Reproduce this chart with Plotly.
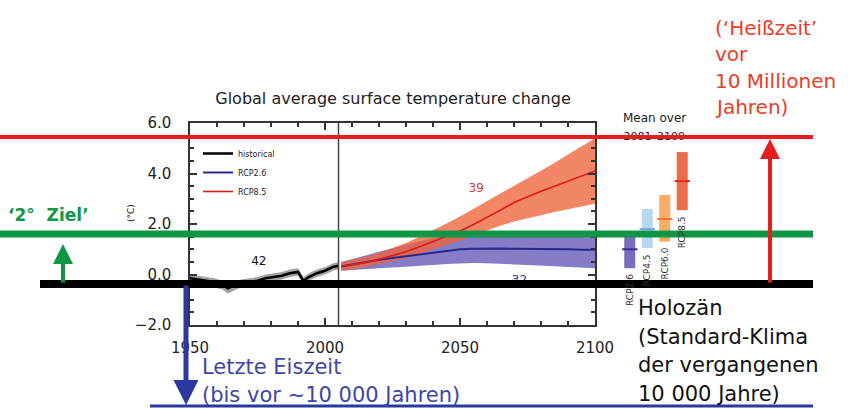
import plotly.graph_objects as go

W, H = 848, 409
FONT = "DejaVu Sans"

# ---------------- data ----------------
hist_years = [1950, 1953, 1956, 1959, 1962, 1964, 1966, 1969, 1972, 1975, 1978,
              1981, 1984, 1987, 1990, 1992, 1994, 1997, 2000, 2003, 2005]
hist_mean = [-0.15, -0.2, -0.25, -0.3, -0.4, -0.55, -0.45, -0.35, -0.3, -0.25, -0.15,
             -0.1, -0.05, 0.05, 0.1, -0.25, -0.1, 0.05, 0.15, 0.3, 0.35]
hist_low = [-0.35, -0.4, -0.45, -0.5, -0.6, -0.75, -0.65, -0.5, -0.45, -0.4, -0.3,
            -0.25, -0.2, -0.1, -0.05, -0.4, -0.25, -0.1, 0.0, 0.15, 0.2]
hist_high = [0.0, -0.05, -0.1, -0.15, -0.25, -0.35, -0.3, -0.2, -0.15, -0.1, 0.0,
             0.05, 0.1, 0.2, 0.25, -0.1, 0.05, 0.2, 0.3, 0.45, 0.5]

proj_years = [2006, 2010, 2015, 2020, 2025, 2030, 2035, 2040, 2045, 2050,
              2055, 2060, 2065, 2070, 2075, 2080, 2085, 2090, 2095, 2100]
rcp26_mean = [0.32, 0.4, 0.5, 0.58, 0.65, 0.72, 0.8, 0.88, 0.95, 1.0,
              1.02, 1.03, 1.03, 1.02, 1.02, 1.0, 1.0, 1.0, 0.98, 0.98]
rcp26_low = [0.15, 0.18, 0.22, 0.25, 0.28, 0.3, 0.34, 0.38, 0.42, 0.45,
             0.46, 0.45, 0.43, 0.4, 0.38, 0.35, 0.32, 0.3, 0.28, 0.25]
rcp26_high = [0.5, 0.6, 0.75, 0.9, 1.05, 1.2, 1.32, 1.45, 1.55, 1.6,
              1.62, 1.62, 1.62, 1.62, 1.62, 1.62, 1.62, 1.62, 1.62, 1.62]
rcp85_mean = [0.32, 0.38, 0.48, 0.6, 0.75, 0.9, 1.1, 1.3, 1.5, 1.72,
              1.98, 2.25, 2.55, 2.85, 3.08, 3.3, 3.5, 3.7, 3.9, 4.1]
rcp85_low = [0.15, 0.2, 0.3, 0.4, 0.52, 0.65, 0.82, 1.0, 1.18, 1.35,
             1.55, 1.75, 1.93, 2.1, 2.22, 2.35, 2.48, 2.6, 2.7, 2.8]
rcp85_high = [0.5, 0.58, 0.7, 0.85, 1.05, 1.25, 1.5, 1.75, 2.02, 2.3,
              2.6, 2.9, 3.2, 3.5, 3.8, 4.1, 4.42, 4.75, 5.08, 5.4]

n_hist_models, n_rcp26_models, n_rcp85_models = 42, 32, 39

bar_labels = ["RCP2.6", "RCP4.5", "RCP6.0", "RCP8.5"]
bar_low = [0.25, 1.05, 1.3, 2.55]
bar_high = [1.6, 2.6, 3.15, 4.85]
bar_mean = [1.0, 1.8, 2.2, 3.7]
bar_colors = ["rgb(120,110,190)", "rgb(185,215,242)", "rgb(250,172,105)", "rgb(236,108,72)"]
bar_mean_colors = ["rgb(60,50,150)", "rgb(120,170,225)", "rgb(240,120,50)", "rgb(225,40,30)"]

y_ticks = [-2, 0, 2, 4, 6]
x_ticks = [1950, 2000, 2050, 2100]


def px(x):
    return x / W


def py(y):
    return 1 - y / H


fig = go.Figure()

# bands
fig.add_trace(go.Scatter(x=hist_years + hist_years[::-1], y=hist_high + hist_low[::-1],
                         fill="toself", fillcolor="rgba(140,140,140,0.8)",
                         line=dict(width=0), showlegend=False, hoverinfo="skip"))
fig.add_trace(go.Scatter(x=proj_years + proj_years[::-1], y=rcp26_high + rcp26_low[::-1],
                         fill="toself", fillcolor="rgba(100,88,185,0.78)",
                         line=dict(width=0), showlegend=False, hoverinfo="skip"))
fig.add_trace(go.Scatter(x=proj_years + proj_years[::-1], y=rcp85_high + rcp85_low[::-1],
                         fill="toself", fillcolor="rgba(240,100,60,0.78)",
                         line=dict(width=0), showlegend=False, hoverinfo="skip"))

# lines
fig.add_trace(go.Scatter(x=hist_years, y=hist_mean, mode="lines", name="historical",
                         line=dict(color="black", width=2.5)))
fig.add_trace(go.Scatter(x=proj_years, y=rcp26_mean, mode="lines", name="RCP2.6",
                         line=dict(color="rgb(40,40,140)", width=2)))
fig.add_trace(go.Scatter(x=proj_years, y=rcp85_mean, mode="lines", name="RCP8.5",
                         line=dict(color="rgb(225,25,25)", width=1.6)))

# model counts
fig.add_trace(go.Scatter(x=[1975.5], y=[0.5], mode="text", text=[str(n_hist_models)],
                         textfont=dict(family=FONT, size=12, color="#111"), showlegend=False))
fig.add_trace(go.Scatter(x=[2056], y=[3.4], mode="text", text=[str(n_rcp85_models)],
                         textfont=dict(family=FONT, size=12, color="rgb(220,60,50)"), showlegend=False))
fig.add_trace(go.Scatter(x=[2072], y=[-0.25], mode="text", text=[str(n_rcp26_models)],
                         textfont=dict(family=FONT, size=12, color="rgb(50,50,150)"), showlegend=False))

# right-hand bars (mean over 2081-2100)
bar_pos = list(range(len(bar_labels)))
fig.add_trace(go.Bar(x=bar_pos, y=[h - l for h, l in zip(bar_high, bar_low)], base=bar_low,
                     width=0.63, marker=dict(color=bar_colors, line=dict(width=0)),
                     xaxis="x2", yaxis="y", showlegend=False, hovertext=bar_labels))
fig.add_trace(go.Scatter(x=bar_pos, y=bar_mean, mode="markers", xaxis="x2", yaxis="y",
                         marker=dict(symbol="line-ew", size=11,
                                     line=dict(width=2, color=bar_mean_colors)),
                         showlegend=False))
fig.add_trace(go.Scatter(x=[1.4], y=[5.45], mode="text", text=["2081\u20132100"], xaxis="x2", yaxis="y",
                         textfont=dict(family=FONT, size=11, color="#222"), showlegend=False))

axis_col = "#333"
fig.update_layout(
    width=W, height=H,
    autosize=False,
    margin=dict(l=0, r=0, t=0, b=0, pad=0, autoexpand=False),
    paper_bgcolor="white", plot_bgcolor="white",
    font=dict(family=FONT, color="#222"),
    title=dict(text="Global average surface temperature change", x=px(393), y=py(98),
               xref="paper", yref="paper", xanchor="center", yanchor="middle",
               automargin=False,
               font=dict(family=FONT, size=16, color="#222")),
    xaxis=dict(domain=[px(190), px(595)], range=[1950, 2100], tickvals=x_ticks,
               ticks="inside", ticklen=7, tickwidth=1.5, tickcolor=axis_col,
               minor=dict(ticks="inside", dtick=10, tick0=1950, ticklen=4, tickcolor=axis_col),
               showline=True, linecolor=axis_col, linewidth=1.5, mirror="ticks",
               showgrid=False, zeroline=False, ticklabelstandoff=8, automargin=False,
               tickfont=dict(family=FONT, size=15, color="#222")),
    yaxis=dict(domain=[py(325), py(123)], range=[-2, 6], tickvals=y_ticks, tickformat=".1f",
               ticks="inside", ticklen=7, tickwidth=1.5, tickcolor=axis_col,
               minor=dict(ticks="inside", dtick=0.5, tick0=0, ticklen=4, tickcolor=axis_col),
               showline=True, linecolor=axis_col, linewidth=1.5, mirror="ticks",
               showgrid=False, zeroline=False, ticklabelstandoff=14, automargin=False,
               tickfont=dict(family=FONT, size=15, color="#222")),
    xaxis2=dict(domain=[px(621), px(691)], range=[-0.5, 3.5], anchor="y", visible=False,
                showgrid=False, zeroline=False),
    legend=dict(x=px(198), y=py(139), xanchor="left", yanchor="top",
                bgcolor="rgba(0,0,0,0)", font=dict(family=FONT, size=8, color="#222"),
                itemwidth=30),
    showlegend=True,
)

shapes = [
    dict(type="line", xref="x", yref="y domain", x0=2005, x1=2005, y0=0, y1=1,
         line=dict(color="#444", width=1.5), layer="above"),
    dict(type="line", xref="paper", yref="paper", x0=px(0), x1=px(813), y0=py(137), y1=py(137),
         line=dict(color="rgb(232,30,30)", width=4), layer="above"),
    dict(type="line", xref="paper", yref="paper", x0=px(0), x1=px(813), y0=py(234), y1=py(234),
         line=dict(color="rgb(16,150,70)", width=7), layer="above"),
    dict(type="line", xref="paper", yref="paper", x0=px(40), x1=px(813), y0=py(284), y1=py(284),
         line=dict(color="black", width=8), layer="above"),
    dict(type="line", xref="paper", yref="paper", x0=px(150), x1=px(813), y0=py(406), y1=py(406),
         line=dict(color="rgb(45,55,160)", width=3), layer="above"),
]
fig.update_layout(shapes=shapes)

ann = []
# arrows
ann.append(dict(xref="paper", yref="paper", x=px(770), y=py(139), ax=0, ay=145, text="",
                showarrow=True, arrowhead=2, arrowsize=1, arrowwidth=4, arrowcolor="rgb(232,30,30)"))
ann.append(dict(xref="paper", yref="paper", x=px(63), y=py(244), ax=0, ay=40, text="",
                showarrow=True, arrowhead=2, arrowsize=1, arrowwidth=4, arrowcolor="rgb(16,150,70)"))
ann.append(dict(xref="paper", yref="paper", x=px(186), y=py(405), ax=0, ay=-121, text="",
                showarrow=True, arrowhead=2, arrowsize=1, arrowwidth=5, arrowcolor="rgb(45,55,160)"))

# texts
ann.append(dict(xref="paper", yref="paper", x=px(6), y=py(215), xanchor="left", yanchor="middle",
                text="<b>\u20182\u00b0  Ziel\u2019</b>", showarrow=False,
                font=dict(family=FONT, size=17, color="rgb(16,150,70)")))
for i, line in enumerate(["Holoz\u00e4n", "(Standard-Klima", "der vergangenen", "10 000 Jahre)"]):
    ann.append(dict(xref="paper", yref="paper", x=px(636), y=py(308 + 28.5 * i),
                    xanchor="left", yanchor="middle", text=line, showarrow=False,
                    font=dict(family=FONT, size=21, color="#111")))
for i, line in enumerate(["(\u2018Hei\u00dfzeit\u2019", "vor", "10 Millionen", "Jahren)"]):
    ann.append(dict(xref="paper", yref="paper", x=px(713), y=py(28 + 26.5 * i),
                    xanchor="left", yanchor="middle", text=line, showarrow=False,
                    font=dict(family=FONT, size=20, color="rgb(235,60,40)")))
for i, line in enumerate(["Letzte Eiszeit", "(bis vor ~10 000 Jahren)"]):
    ann.append(dict(xref="paper", yref="paper", x=px(200), y=py(367 + 28 * i),
                    xanchor="left", yanchor="middle", text=line, showarrow=False,
                    font=dict(family=FONT, size=21, color="rgb(60,70,170)")))
ann.append(dict(xref="paper", yref="paper", x=px(654), y=py(118), xanchor="center", yanchor="middle",
                text="Mean over", showarrow=False, font=dict(family=FONT, size=12, color="#222")))
ann.append(dict(xref="paper", yref="paper", x=px(131), y=py(213), xanchor="center", yanchor="middle",
                text="(\u00b0C)", textangle=-90, showarrow=False,
                font=dict(family=FONT, size=9, color="#222")))
for i, lab in enumerate(bar_labels):
    ann.append(dict(xref="x2", yref="y", x=bar_pos[i], y=bar_low[i], xanchor="center", yanchor="top",
                    yshift=-4, text=lab, textangle=-90, showarrow=False,
                    font=dict(family=FONT, size=9, color="#333")))
fig.update_layout(annotations=ann)

fig.write_html("out.html",
               config={"displayModeBar": False},
               post_script="document.body.style.margin='0';document.body.style.overflow='hidden';")
